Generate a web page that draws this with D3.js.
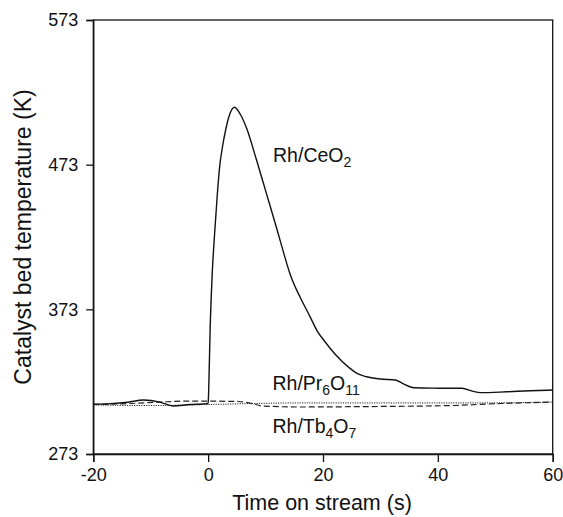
<!DOCTYPE html>
<html>
<head>
<meta charset="utf-8">
<script src="https://cdn.jsdelivr.net/npm/d3@7"></script>
<style>
  html, body { margin: 0; padding: 0; background: #fff; }
  svg { display: block; }
  text { font-family: "Liberation Sans", Arial, sans-serif; fill: #111; }
</style>
</head>
<body>
<svg id="chart" width="563" height="517"></svg>
<script>
// ---- data ----
const xTicks = [-20, 0, 20, 40, 60];
const yTicks = [273, 373, 473, 573];

const ceTime = [-20, -17, -14, -11.3, -8.4, -6.1, -3.2, -1, 0, 0.08, 0.35, 0.7, 1.17, 1.57, 2.04, 2.44, 3.1, 3.6, 4.6, 5.65, 6.7, 8.44, 10.19, 11.93, 13.26, 14.13, 14.83, 16, 17.74, 19, 20.35, 22, 24.7, 26, 27.6, 29.95, 32.6, 34, 35.8, 40, 44.2, 46, 47.4, 52, 56, 60];
const ceTemp = [307.4, 307.8, 308.8, 310.3, 308.9, 306.2, 307.2, 307.6, 307.9, 315, 360, 396.7, 428, 451, 473, 484, 498, 506, 512.7, 507.5, 498.1, 476, 452.5, 429, 410.5, 399, 391.5, 381.5, 368, 358, 350.6, 342.5, 332.2, 328.5, 326.4, 324.8, 324.2, 321.5, 318.8, 318.5, 318.4, 316.5, 315.4, 316, 316.7, 317.2];

const prTime = [-20, -13.7, -8.4, -3.2, 5.2, 7.5, 9.4, 16, 28.2, 42.2, 50.9, 60];
const prTemp = [307.2, 307.9, 308.9, 309.6, 309.3, 308.0, 306.2, 305.5, 305.8, 306.5, 307.9, 308.9];

const tbTime = [-20, -10.2, 0, 7.8, 16, 33.4, 47.4, 60];
const tbTemp = [306.9, 306.5, 307.2, 307.9, 308.3, 308.3, 308.3, 308.9];

const labels = [
  { parts: [["Rh/CeO", false], ["2", true]], t: 11.3, T: 474.8 },
  { parts: [["Rh/Pr", false], ["6", true], ["O", false], ["11", true]], t: 11.2, T: 317.3 },
  { parts: [["Rh/Tb", false], ["4", true], ["O", false], ["7", true]], t: 11.2, T: 287.4 }
];

// ---- layout ----
const svg = d3.select("#chart");
const L = 93.3, R = 552.7, T0 = 20, B = 454;
const x = d3.scaleLinear().domain([-20, 60]).range([L, R]);
const y = d3.scaleLinear().domain([273, 573]).range([B, T0]);

// frame
svg.append("rect").attr("x", L).attr("y", T0).attr("width", R - L).attr("height", B - T0)
  .attr("fill", "none").attr("stroke", "#111").attr("stroke-width", 1.3);

const xAxis = svg.append("g").attr("transform", `translate(0,${B})`)
  .call(d3.axisBottom(x).tickValues(xTicks).tickSize(8).tickPadding(6).tickFormat(d => String(d)));
const yAxis = svg.append("g").attr("transform", `translate(${L},0)`)
  .call(d3.axisLeft(y).tickValues(yTicks).tickSize(7).tickPadding(8).tickFormat(d => String(d)));
[xAxis, yAxis].forEach(a => {
  a.select(".domain").attr("stroke", "#111").attr("stroke-width", 1.3);
  a.selectAll(".tick line").attr("stroke", "#111").attr("stroke-width", 1.3);
  a.selectAll(".tick text").attr("font-size", 18).attr("fill", "#111")
    .attr("font-family", "Liberation Sans, Arial, sans-serif");
});

// lines
const line = (ts, vs) => d3.line().x((d, i) => x(ts[i])).y((d, i) => y(vs[i])).curve(d3.curveMonotoneX)(ts);
svg.append("path").attr("d", line(tbTime, tbTemp)).attr("fill", "none")
  .attr("stroke", "#222").attr("stroke-width", 1).attr("stroke-dasharray", "1.2,1.2");
svg.append("path").attr("d", line(prTime, prTemp)).attr("fill", "none")
  .attr("stroke", "#222").attr("stroke-width", 1.2).attr("stroke-dasharray", "6,3");
svg.append("path").attr("d", line(ceTime, ceTemp)).attr("fill", "none")
  .attr("stroke", "#111").attr("stroke-width", 1.4);

// labels
labels.forEach(lb => {
  const t = svg.append("text").attr("x", x(lb.t)).attr("y", y(lb.T)).attr("font-size", 19.5);
  let sub = false;
  lb.parts.forEach(([s, isSub]) => {
    const sp = t.append("tspan").text(s);
    if (isSub && !sub) { sp.attr("dy", 5).attr("font-size", 14); sub = true; }
    else if (isSub && sub) { sp.attr("font-size", 14); }
    else if (!isSub && sub) { sp.attr("dy", -5); sub = false; }
  });
});

// axis titles
svg.append("text").attr("x", 322).attr("y", 510).attr("text-anchor", "middle")
  .attr("font-size", 21.5).text("Time on stream (s)");
svg.append("text").attr("transform", `translate(31,${237}) rotate(-90)`).attr("text-anchor", "middle")
  .attr("font-size", 23).text("Catalyst bed temperature (K)");
</script>
</body>
</html>
